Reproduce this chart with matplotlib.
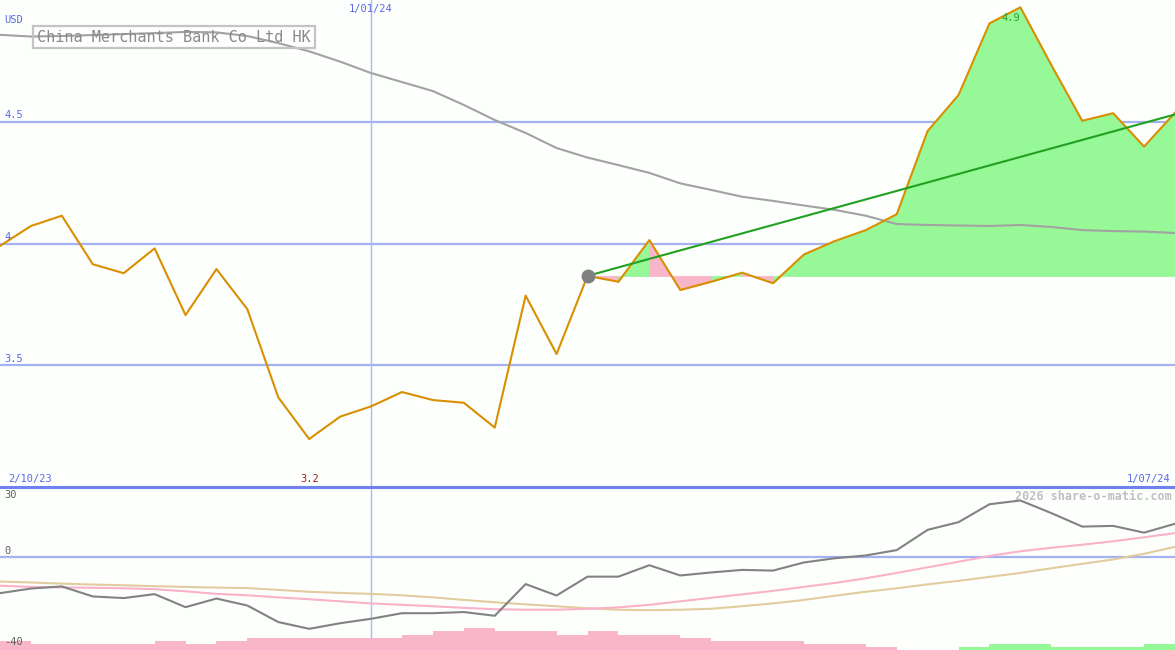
import matplotlib
matplotlib.use("Agg")
import matplotlib.pyplot as plt
import matplotlib.transforms as mtrans
import numpy as np

# ---------------- data ----------------
title = "China Merchants Bank Co Ltd HK"
currency = "USD"
start_label = "2/10/23"
mid_label = "1/01/24"
end_label = "1/07/24"
mid_index = 12

price = [3.990, 4.072, 4.114, 3.915, 3.878, 3.980, 3.706, 3.895, 3.730, 3.368,
         3.197, 3.289, 3.331, 3.390, 3.357, 3.346, 3.244, 3.786, 3.546, 3.867,
         3.843, 4.014, 3.809, 3.843, 3.880, 3.837, 3.955, 4.010, 4.055, 4.120,
         4.462, 4.610, 4.904, 4.970, 4.733, 4.504, 4.535, 4.398, 4.537]

moving_avg = [4.857, 4.850, 4.852, 4.856, 4.860, 4.864, 4.869, 4.867, 4.852, 4.823,
              4.789, 4.747, 4.700, 4.663, 4.626, 4.569, 4.507, 4.454, 4.392, 4.353,
              4.322, 4.290, 4.247, 4.220, 4.192, 4.175, 4.156, 4.138, 4.114, 4.080,
              4.076, 4.074, 4.072, 4.076, 4.068, 4.055, 4.051, 4.049, 4.043]

oscillator = [-15.6, -13.6, -12.7, -17.0, -17.7, -16.0, -21.6, -17.9, -20.9, -28.0,
              -30.9, -28.5, -26.6, -24.2, -24.2, -23.7, -25.3, -11.7, -16.6, -8.5,
              -8.5, -3.6, -8.0, -6.7, -5.6, -5.9, -2.4, -0.6, 0.6, 2.9,
              11.6, 14.9, 22.6, 24.2, 18.8, 13.0, 13.3, 10.4, 14.2]

signal_fast = [-12.4, -12.9, -13.1, -13.3, -13.5, -13.9, -14.8, -15.9, -16.5, -17.4,
               -18.2, -19.1, -20.0, -20.6, -21.2, -21.9, -22.5, -22.7, -22.7, -22.3,
               -21.7, -20.6, -19.1, -17.6, -16.1, -14.6, -12.9, -11.2, -9.2, -6.9,
               -4.5, -2.1, 0.4, 2.4, 3.9, 5.2, 6.7, 8.4, 10.2]

signal_slow = [-10.6, -11.0, -11.5, -11.9, -12.2, -12.6, -12.9, -13.2, -13.4, -14.2,
               -15.0, -15.5, -15.9, -16.5, -17.4, -18.5, -19.5, -20.4, -21.2, -22.1,
               -22.7, -22.9, -22.7, -22.3, -21.2, -20.0, -18.5, -16.7, -15.0, -13.5,
               -11.8, -10.3, -8.6, -6.9, -4.9, -3.0, -1.1, 1.3, 4.3]

histogram = [-3.9, -2.6, -2.6, -2.6, -2.6, -3.9, -2.6, -3.9, -5.2, -5.2,
             -5.2, -5.2, -5.2, -6.4, -8.2, -9.4, -8.2, -8.2, -6.4, -8.2,
             -6.4, -6.4, -5.2, -3.9, -3.9, -3.9, -2.6, -2.6, -1.3, 0.0,
             0.0, 1.3, 2.6, 2.6, 1.3, 1.3, 1.3, 2.6]

trend_start = 19
trend_end_value = 4.53
# colour of the gain/loss fill per week from trend_start on ("up" green, "down" pink)
fill_kind = ["down", "up", "down", "down", "up", "down", "up", "up", "up", "up",
             "up", "up", "up", "up", "up", "up", "up", "up", "up"]

price_ticks = [3.5, 4.0, 4.5]
price_tick_labels = ["3.5", "4", "4.5"]
osc_tick_labels = ["30", "0", "-40"]
min_label = "3.2"
max_label = "4.9"
watermark = "2026 share-o-matic.com"

# ---------------- style ----------------
BG = "#fcfffc"
GRID = "#a4b2f2"
TXT_BLUE = "#5a68e8"
MONO = "DejaVu Sans Mono"
LW = 1.5

W, H = 1175, 650
main_h = 487
fig = plt.figure(figsize=(W / 100, H / 100), dpi=100)
fig.patch.set_facecolor(BG)
ax = fig.add_axes([0, (H - main_h) / H, 1, main_h / H])
ax2 = fig.add_axes([0, 0, 1, (H - main_h) / H])
for a in (ax, ax2):
    a.set_axis_off()
    a.set_xlim(0, len(price) - 1)
ax.set_ylim(3.0, 5.0)
ax2.set_ylim(-40, 30)

x = np.arange(len(price))
p = np.array(price)

# grid
for v in price_ticks:
    ax.axhline(v, color=GRID, lw=1.6, zorder=1)
ax.axvline(mid_index, color="#a8b8fa", lw=1.0, zorder=1)
ax2.axvline(mid_index, color="#a8b8fa", lw=1.0, zorder=1)

# gain / loss fill relative to the start point
base = p[trend_start]
for k, kind in enumerate(fill_kind):
    i = trend_start + k
    col = "#96f896" if kind == "up" else "#f9b6c8"
    ax.fill_between(x[i:i + 2], p[i:i + 2], base, facecolor=col, edgecolor=col,
                    lw=0.6, zorder=2)

ax.plot(x, moving_avg, color="#a2a2a2", lw=LW, zorder=3)
ax.plot(x, p, color="#d98f00", lw=LW, zorder=4)
ax.plot([trend_start, x[-1]], [base, trend_end_value], color="#22a022", lw=LW, zorder=5)
ax.scatter([trend_start], [base], s=100, color="#808080", zorder=6, lw=0)

# price axis labels
blend = mtrans.blended_transform_factory(ax.transAxes, ax.transData)
for v, lab in zip(price_ticks, price_tick_labels):
    ax.text(0.004, v + 0.006, lab, transform=blend, color=TXT_BLUE, fontsize=7.5,
            family=MONO, va="bottom", ha="left", zorder=7)
ax.text(0.004, 0.959, currency, transform=ax.transAxes, color=TXT_BLUE, fontsize=7.5,
        family=MONO, va="center", ha="left")

# date labels
blend_x = mtrans.blended_transform_factory(ax.transData, ax.transAxes)
ax.text(mid_index, 0.981, mid_label, transform=blend_x, color=TXT_BLUE, fontsize=7.5,
        family=MONO, ha="center", va="center")
ax.text(0.007, 0.016, start_label, transform=ax.transAxes, color=TXT_BLUE, fontsize=7.5,
        family=MONO, ha="left", va="center")
ax.text(0.996, 0.016, end_label, transform=ax.transAxes, color=TXT_BLUE, fontsize=7.5,
        family=MONO, ha="right", va="center")

# min / max labels
imin = int(np.argmin(p))
imax = int(np.argmax(p))
ax.text(imin, 0.016, min_label, transform=blend_x, color="#a02020", fontsize=7.5,
        family=MONO, ha="center", va="center")
ax.text(imax, p[imax] - 0.025, max_label, color="#30a030", fontsize=7.5,
        family=MONO, ha="right", va="top", zorder=7)

# title box
ax.text(37 / W, 1 - 37 / main_h, title, transform=ax.transAxes, color="#8a8a8a",
        fontsize=11, family=MONO, ha="left", va="center", zorder=8,
        bbox=dict(boxstyle="square,pad=0.25", fc="none", ec="#c4c4c4", lw=1.6))

# ---------------- lower panel ----------------
ax2.axhline(0, color=GRID, lw=1.6, zorder=1)
ax2.axhline(30, color="#7080ec", lw=2.2, zorder=6, clip_on=False)
h = np.array(histogram)
ax2.bar(x[:-1], np.abs(h), width=1.0, align="edge", bottom=-40,
        color=["#96f896" if v > 0 else "#f9b6c8" for v in h], lw=0, zorder=2)
ax2.plot(x, signal_slow, color="#e2cc9e", lw=LW, zorder=3)
ax2.plot(x, signal_fast, color="#f9b2c8", lw=LW, zorder=3)
ax2.plot(x, oscillator, color="#828282", lw=LW, zorder=4)

blend2 = mtrans.blended_transform_factory(ax2.transAxes, ax2.transData)
ax2.text(0.004, 26.5, osc_tick_labels[0], transform=blend2, color="#606060", fontsize=7.5,
         family=MONO, ha="left", va="center", zorder=7)
ax2.text(0.004, 2.5, osc_tick_labels[1], transform=blend2, color="#606060", fontsize=7.5,
         family=MONO, ha="left", va="center", zorder=7)
ax2.text(0.004, -36.5, osc_tick_labels[2], transform=blend2, color="#606060", fontsize=7.5,
         family=MONO, ha="left", va="center", zorder=7)
ax2.text(0.9975, 26.0, watermark, transform=blend2, color="#c0c0c0", fontsize=8.5,
         family=MONO, weight="bold", ha="right", va="center", zorder=7)

fig.savefig("out.png", dpi=100, facecolor=BG)
